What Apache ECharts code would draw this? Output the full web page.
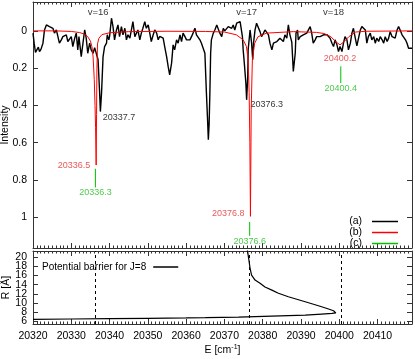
<!DOCTYPE html>
<html>
<head>
<meta charset="utf-8">
<script src="https://cdn.jsdelivr.net/npm/echarts@6/dist/echarts.min.js"></script>
<style>
* { margin: 0; padding: 0; }
#main { width: 415px; height: 359px; background: #fff; }
</style>
</head>
<body>
<div id="main"></div>
<script>
// (a) measured spectrum: energy [cm-1] / intensity
var specE = [20320.0, 20320.3, 20320.65, 20321.0, 20321.4, 20321.7, 20322.1, 20322.6, 20323.0, 20323.5, 20323.9, 20324.3, 20324.8, 20325.2, 20325.6, 20326.1, 20326.5, 20326.9, 20327.4, 20327.8, 20328.2, 20328.7, 20329.1, 20329.6, 20330.0, 20330.4, 20330.9, 20331.3, 20331.7, 20332.0, 20332.4, 20332.6, 20333.0, 20333.5, 20333.9, 20334.3, 20334.8, 20335.2, 20335.7, 20336.1, 20336.5, 20337.0, 20337.4, 20337.6, 20337.9, 20338.3, 20338.7, 20339.2, 20339.4, 20339.8, 20340.0, 20340.5, 20340.9, 20341.3, 20341.8, 20342.2, 20342.6, 20343.1, 20343.5, 20344.0, 20344.4, 20344.8, 20345.3, 20345.7, 20346.1, 20346.6, 20347.0, 20347.4, 20347.9, 20348.3, 20348.7, 20349.2, 20349.6, 20350.1, 20350.5, 20350.9, 20351.4, 20351.8, 20352.3, 20352.7, 20353.1, 20353.6, 20354.0, 20354.4, 20354.9, 20355.3, 20355.7, 20356.2, 20356.6, 20357.0, 20357.5, 20357.9, 20358.4, 20358.8, 20359.2, 20359.7, 20360.1, 20360.5, 20361.0, 20361.4, 20361.8, 20362.3, 20362.7, 20363.1, 20363.6, 20364.0, 20364.5, 20364.9, 20365.3, 20365.6, 20365.8, 20366.0, 20366.2, 20366.4, 20366.6, 20367.1, 20367.5, 20368.0, 20368.4, 20368.8, 20369.3, 20369.7, 20370.1, 20370.6, 20371.0, 20371.4, 20371.9, 20372.3, 20372.7, 20373.2, 20373.6, 20374.1, 20374.5, 20374.7, 20374.9, 20375.2, 20375.6, 20375.8, 20376.1, 20376.2, 20376.7, 20377.1, 20377.4, 20377.6, 20378.0, 20378.4, 20378.8, 20379.3, 20379.7, 20380.2, 20380.6, 20381.0, 20381.5, 20381.9, 20382.4, 20382.8, 20383.2, 20383.7, 20384.1, 20384.5, 20385.0, 20385.4, 20385.8, 20386.3, 20386.7, 20387.1, 20387.6, 20388.0, 20388.5, 20388.7, 20389.1, 20389.3, 20389.8, 20390.2, 20390.6, 20391.1, 20391.5, 20391.9, 20392.4, 20392.8, 20393.2, 20393.7, 20394.1, 20394.6, 20395.0, 20395.4, 20395.9, 20396.3, 20396.8, 20397.2, 20397.6, 20398.1, 20398.5, 20398.9, 20399.4, 20399.8, 20400.2, 20400.7, 20401.1, 20401.5, 20402.0, 20402.4, 20402.9, 20403.3, 20403.7, 20404.2, 20404.6, 20405.0, 20405.5, 20405.9, 20406.3, 20406.8, 20407.2, 20407.6, 20408.1, 20408.5, 20409.0, 20409.4, 20409.8, 20410.3, 20410.7, 20411.2, 20411.6, 20412.0, 20412.5, 20412.9, 20413.3, 20413.8, 20414.2, 20414.6, 20415.1, 20415.5, 20415.9, 20416.4, 20416.8, 20417.3, 20417.7, 20418.1, 20418.6, 20419.0];
var specI = [0.012, 0.066, 0.116, 0.102, 0.087, 0.111, 0.098, 0.066, -0.005, -0.032, -0.041, -0.023, -0.032, -0.014, 0.012, -0.005, 0.004, 0.066, 0.048, 0.031, 0.039, 0.021, 0.057, 0.048, 0.031, 0.084, 0.039, 0.012, 0.102, 0.031, 0.021, 0.138, 0.146, -0.005, 0.039, 0.120, 0.066, 0.102, 0.120, 0.090, 0.093, 0.155, 0.332, 0.433, 0.334, 0.138, 0.084, 0.066, 0.021, 0.048, 0.031, -0.068, -0.023, 0.048, -0.005, -0.032, 0.031, -0.023, 0.021, -0.014, 0.048, 0.021, 0.039, -0.005, -0.050, 0.031, 0.021, -0.005, 0.048, 0.012, -0.014, -0.050, -0.014, -0.032, 0.012, 0.057, 0.021, -0.005, 0.012, 0.048, 0.030, 0.031, 0.039, 0.084, 0.138, 0.191, 0.236, 0.173, 0.075, 0.102, 0.048, 0.066, 0.021, 0.057, 0.012, 0.031, 0.048, 0.057, 0.048, 0.031, 0.012, -0.014, 0.021, 0.031, 0.048, 0.066, 0.057, 0.120, 0.334, 0.477, 0.584, 0.504, 0.334, 0.120, 0.048, 0.012, -0.005, -0.032, -0.041, 0.012, 0.031, -0.014, 0.000, -0.005, -0.023, -0.032, -0.014, -0.032, -0.005, -0.041, -0.032, -0.050, -0.050, 0.031, 0.102, 0.173, 0.280, 0.370, 0.245, 0.102, -0.005, 0.066, 0.155, 0.066, -0.005, -0.041, -0.032, 0.004, 0.031, 0.012, -0.005, 0.004, 0.021, 0.066, 0.102, 0.066, 0.075, 0.057, 0.048, 0.039, 0.031, 0.057, 0.021, 0.039, -0.032, 0.020, 0.060, 0.218, 0.120, 0.012, -0.005, 0.048, 0.031, 0.039, 0.021, 0.031, 0.012, 0.004, -0.023, 0.012, 0.066, 0.048, 0.031, 0.021, 0.031, 0.031, 0.021, 0.012, 0.021, 0.031, 0.039, 0.066, 0.084, 0.048, 0.075, 0.111, 0.084, 0.111, 0.066, 0.031, 0.048, 0.102, 0.066, 0.012, -0.014, 0.040, 0.080, 0.070, -0.005, -0.023, -0.032, -0.005, 0.066, 0.031, 0.012, 0.048, 0.031, 0.066, 0.039, 0.057, 0.031, 0.048, 0.066, 0.031, 0.057, 0.039, 0.004, 0.031, 0.021, 0.039, -0.005, -0.023, -0.005, 0.021, 0.012, 0.048, 0.066, 0.093, 0.093, 0.093];

// (b) fitted profile
var fitE = [20320, 20326, 20330, 20332.2, 20333.5, 20334.3, 20335.0, 20335.4, 20335.7, 20336.0, 20336.2, 20336.35, 20336.5, 20336.6, 20336.7, 20336.85, 20337.2, 20338, 20340, 20345, 20355, 20365, 20370, 20373.1, 20374.9, 20375.75, 20376.2, 20376.46, 20376.65, 20376.8, 20377.0, 20377.3, 20377.9, 20378.8, 20381, 20388, 20394, 20396, 20397.8, 20399, 20400.2, 20401.3, 20402.5, 20404.3, 20407, 20419];
var fitI = [0, 0, 0.003, 0.009, 0.018, 0.031, 0.055, 0.085, 0.14, 0.26, 0.40, 0.52, 0.72, 0.45, 0.2, 0.07, 0.04, 0.02, 0.01, 0.004, 0.002, 0.003, 0.006, 0.021, 0.048, 0.084, 0.155, 0.33, 0.6, 0.995, 0.42, 0.155, 0.066, 0.031, 0.012, 0.004, 0.008, 0.014, 0.031, 0.057, 0.075, 0.057, 0.031, 0.006, 0.002, 0];

// line positions
var redLines = [20336.5, 20376.8, 20400.2];
var redDepth = [0.72, 0.995, 0.075];
var greenLines = [20336.3, 20376.6, 20400.4];
var greenFrom = [0.74, 1.025, 0.19];
var greenTo = [0.84, 1.10, 0.28];
var blackLines = [20337.7, 20376.3];
var blackDepth = [0.433, 0.37];
var vibNames = ["v=16", "v=17", "v=18"];
var vibE = [20337, 20375.8, 20398.5];
var vibRow = -0.1;

// potential barrier for J=8: E [cm-1] / R [A]
var barrierE = [20320, 20330, 20340, 20350, 20360, 20365, 20373.7, 20382.4, 20391.1, 20395.4, 20398.1, 20399.1, 20399.4, 20398.5, 20397.2, 20395.4, 20393.7, 20391.1, 20386.7, 20384.1, 20382.4, 20380.6, 20379.3, 20378.0, 20377.1, 20376.7, 20376.4, 20376.0];
var barrierR = [6.37, 6.45, 6.53, 6.6, 6.68, 6.73, 6.88, 7.1, 7.3, 7.54, 7.7, 7.8, 7.92, 8.26, 8.64, 9.14, 9.58, 10.24, 11.34, 12.1, 12.8, 13.5, 14.3, 15.0, 16.1, 17.6, 19.4, 21.6];

function zip(a, b) {
  var out = [];
  for (var i = 0; i < Math.min(a.length, b.length); i++) out.push([a[i], b[i]]);
  return out;
}

var greenData = [];
greenLines.forEach(function (e, i) {
  greenData.push([e, greenFrom[i]], [e, greenTo[i]], [e, "-"]);
});

var RED = "#ff0000", GREEN = "#00c000", FONT = "Liberation Sans";
var frame = { show: true, onZero: false, lineStyle: { color: "#333", width: 1 } };

function xAx(grid, pos, labels) {
  return {
    type: "value", gridIndex: grid, position: pos, min: 20320, max: 20419, interval: 10,
    axisLine: frame,
    axisTick: { show: true, inside: true, length: 5, lineStyle: { color: "#333" } },
    minorTick: { show: true, splitNumber: 10, length: 2.5, lineStyle: { color: "#333" } },
    splitLine: { show: false },
    axisLabel: {
      show: labels, color: "#000", fontFamily: FONT, fontSize: 10.5, margin: 7, showMaxLabel: false,
      formatter: function (v) { return String(v); }
    }
  };
}
function yAx(grid, pos, labels, extra) {
  var ax = {
    type: "value", gridIndex: grid, position: pos,
    axisLine: frame,
    axisTick: { show: true, inside: true, length: 5, lineStyle: { color: "#333" } },
    splitLine: { show: false },
    axisLabel: {
      show: labels, color: "#000", fontFamily: FONT, fontSize: 10.5, margin: 6,
      showMinLabel: false, showMaxLabel: false,
      formatter: function (v) { return String(Math.round(v * 10) / 10); }
    }
  };
  for (var k in extra) ax[k] = extra[k];
  return ax;
}

var topY = { inverse: true, min: -0.155, max: 1.165, splitNumber: 6 };
var botY = { min: 5.35, max: 21.4, splitNumber: 8 };

var chart = echarts.init(document.getElementById("main"));
chart.setOption({
  animation: false,
  backgroundColor: "#fff",
  textStyle: { fontFamily: FONT },
  grid: [
    { left: 33, right: 3, top: 2, height: 246, containLabel: false, outerBoundsMode: "none" },
    { left: 33, right: 3, top: 251, height: 73, containLabel: false, outerBoundsMode: "none" }
  ],
  xAxis: [
    xAx(0, "bottom", false),
    xAx(0, "top", false),
    (function () {
      var a = xAx(1, "bottom", true);
      a.name = "E [cm{sup|-1}]";
      a.nameLocation = "middle";
      a.nameGap = 20;
      a.nameMoveOverlap = false;
      a.nameTextStyle = {
        color: "#000", fontFamily: FONT, fontSize: 10.5,
        rich: { sup: { fontSize: 7, verticalAlign: "top", padding: [0, 0, 6, 0], fontFamily: FONT } }
      };
      return a;
    })(),
    xAx(1, "top", false)
  ],
  yAxis: [
    yAx(0, "left", true, Object.assign({ name: "Intensity", nameLocation: "middle", nameGap: 22, nameRotate: 90,
      nameMoveOverlap: false, nameTextStyle: { color: "#000", fontFamily: FONT, fontSize: 10.5 } }, topY)),
    yAx(0, "right", false, topY),
    yAx(1, "left", true, Object.assign({ name: "R [Å]", nameLocation: "middle", nameGap: 21, nameRotate: 90,
      nameMoveOverlap: false, nameTextStyle: { color: "#000", fontFamily: FONT, fontSize: 10.5 } }, botY)),
    yAx(1, "right", false, botY)
  ],
  legend: [
    {
      data: ["(a)", "(b)", "(c)"],
      orient: "vertical", right: 12, top: 211, align: "right",
      icon: "rect", itemWidth: 26, itemHeight: 1.5, itemGap: 0,
      textStyle: { color: "#000", fontFamily: FONT, fontSize: 10.5, lineHeight: 11, height: 11, padding: [0, 5, 0, 0] }
    },
    {
      data: ["Potential barrier for J=8"],
      left: 37, top: 257, align: "right",
      icon: "rect", itemWidth: 25, itemHeight: 1.5,
      textStyle: { color: "#000", fontFamily: FONT, fontSize: 10, padding: [0, 2, 0, 0] }
    }
  ],
  series: [
    {
      name: "(a)", type: "line", xAxisIndex: 0, yAxisIndex: 0, symbol: "none",
      data: zip(specE, specI), lineStyle: { color: "#000", width: 1.4 }, itemStyle: { color: "#000" }
    },
    {
      name: "(b)", type: "line", xAxisIndex: 0, yAxisIndex: 0, symbol: "none",
      data: zip(fitE, fitI), lineStyle: { color: RED, width: 1 }, itemStyle: { color: RED }
    },
    {
      name: "(c)", type: "line", xAxisIndex: 0, yAxisIndex: 0, symbol: "none",
      data: greenData, connectNulls: false, lineStyle: { color: GREEN, width: 1 }, itemStyle: { color: GREEN }
    },
    {
      type: "scatter", xAxisIndex: 0, yAxisIndex: 0, symbolSize: 0, silent: true,
      data: redLines.map(function (e, i) {
        var lab = i < 2
          ? { position: "left", distance: 6, offset: [0, i === 1 ? -3 : 0] }
          : { position: "bottom", distance: 9 };
        lab.show = true;
        lab.formatter = e.toFixed(1);
        return { value: [e, redDepth[i]], label: lab };
      }),
      label: { color: "#e03030", fontFamily: FONT, fontSize: 9 }
    },
    {
      type: "scatter", xAxisIndex: 0, yAxisIndex: 0, symbolSize: 0, silent: true,
      data: greenLines.map(function (e, i) {
        return { value: [e, greenTo[i]], label: { show: true, position: "bottom", distance: 1, formatter: e.toFixed(1) } };
      }),
      label: { color: "#22bb22", fontFamily: FONT, fontSize: 9 }
    },
    {
      type: "scatter", xAxisIndex: 0, yAxisIndex: 0, symbolSize: 0, silent: true,
      data: blackLines.map(function (e, i) {
        return { value: [e, blackDepth[i]], label: { show: true, position: "right", distance: 2, offset: [0, i === 0 ? 6 : 5], formatter: e.toFixed(1) } };
      }),
      label: { color: "#000", fontFamily: FONT, fontSize: 9 }
    },
    {
      type: "scatter", xAxisIndex: 0, yAxisIndex: 0, symbolSize: 0, silent: true,
      data: vibE.map(function (e, i) {
        return { value: [e, vibRow], label: { show: true, position: "inside", formatter: vibNames[i] } };
      }),
      label: { color: "#000", fontFamily: FONT, fontSize: 9.5 }
    },
    {
      name: "Potential barrier for J=8", type: "line", xAxisIndex: 2, yAxisIndex: 2, symbol: "none",
      data: zip(barrierE, barrierR), lineStyle: { color: "#000", width: 1.2 }, itemStyle: { color: "#000" },
      markLine: {
        silent: true, symbol: "none", label: { show: false },
        lineStyle: { color: "#000", type: [3, 3], width: 1 },
        data: greenLines.map(function (e) { return { xAxis: e }; })
      }
    }
  ]
});
</script>
</body>
</html>
